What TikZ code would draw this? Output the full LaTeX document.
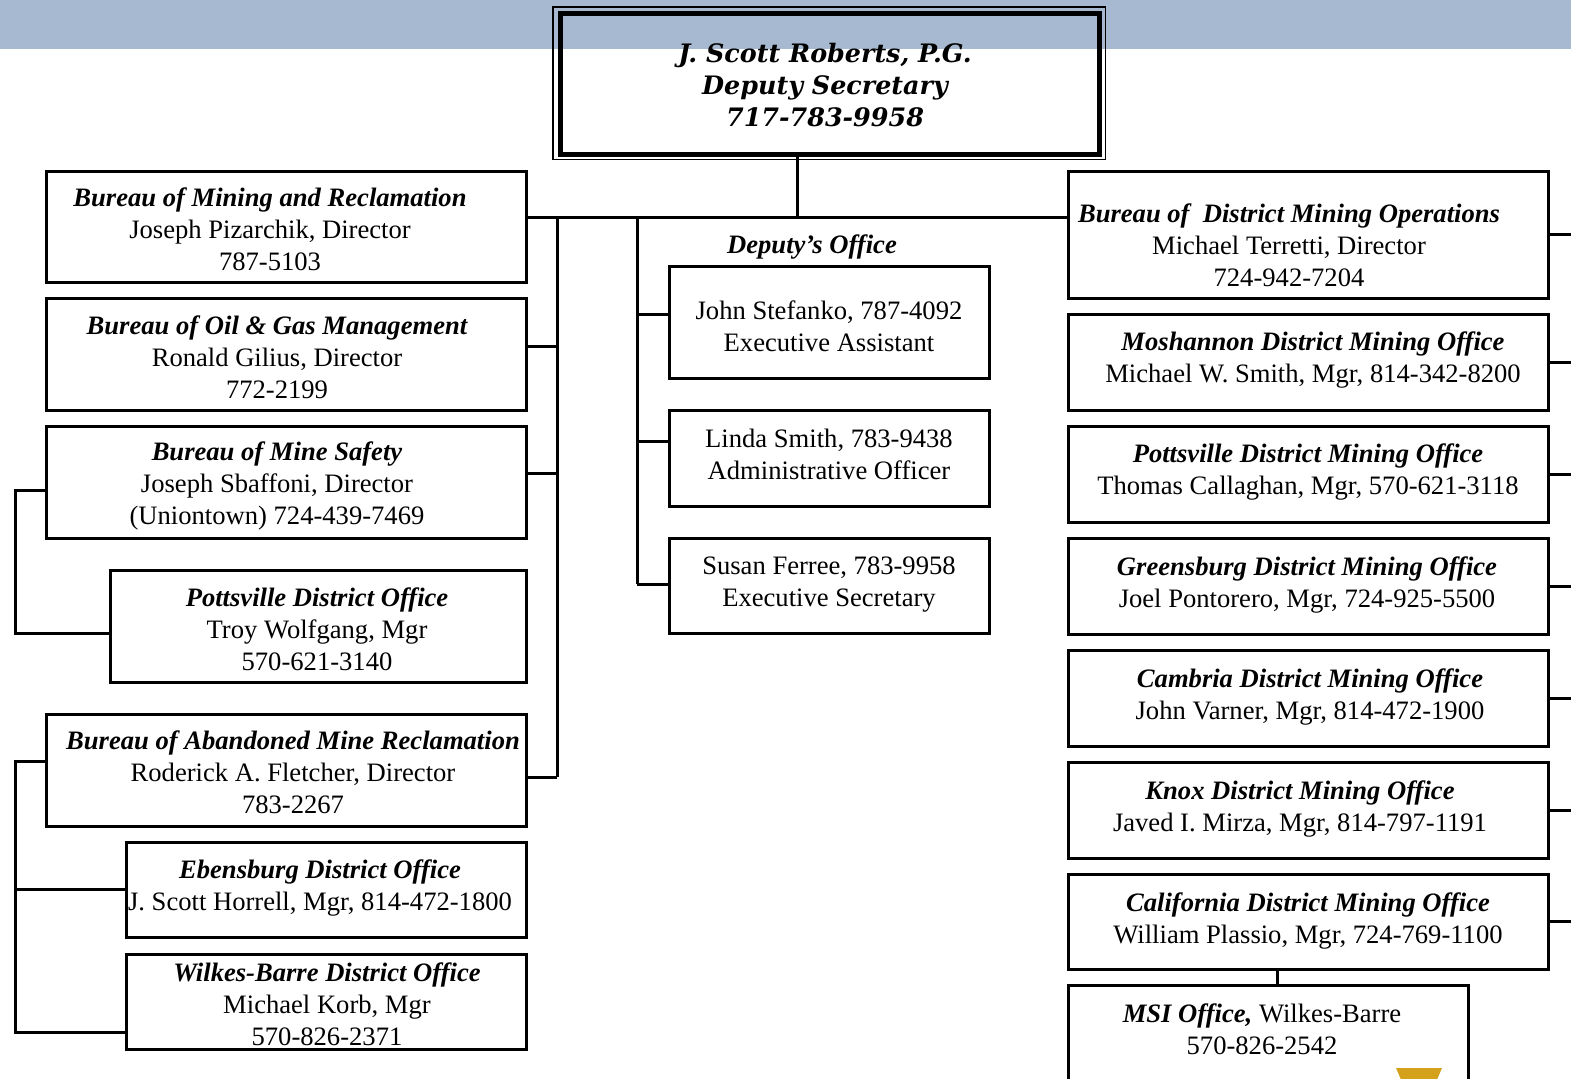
\documentclass[tikz,border=0pt]{standalone}
\usepackage{fontspec}
\setmainfont{Liberation Serif}
\newfontfamily\headfont{DejaVu Serif}
\usetikzlibrary{calc}
\definecolor{bandblue}{RGB}{167,185,208}
\definecolor{goldmark}{RGB}{212,162,26}
\newcommand\ttl[1]{{\bfseries\itshape #1}}
\begin{document}
\begin{tikzpicture}[x=0.5pt,y=-0.5pt,
  box/.style={draw,line width=1.5pt,inner sep=0pt},
  txt/.style={align=center,inner sep=0pt,font=\fontsize{13.3}{16}\selectfont},
  conn/.style={line width=1.5pt}]
\useasboundingbox (0,0) rectangle (1571,1078);
\clip (0,0) rectangle (1571,1078);
\fill[bandblue] (0,0) rectangle (1571,49);

% header
\node[draw,line width=2.5pt,minimum width=269.5pt,minimum height=70.5pt,inner sep=0pt] (top) at (829.5,83.5) {};
\draw[line width=0.7pt] ($(top.north west)+(-4.5,-3.5)$) rectangle ($(top.south east)+(4,3)$);
\node[align=center,inner sep=0pt,font=\headfont\bfseries\itshape\fontsize{12.7}{16}\selectfont] (ttop) at (825,85)
  {J. Scott Roberts, P.G.\\Deputy Secretary\\717-783-9958};

% left column
\node[box,minimum width=240pt,minimum height=55.5pt] (b1) at (286,226.5) {};
\node[txt] (tb1) at (270,229) {\ttl{Bureau of Mining and Reclamation}\\Joseph Pizarchik, Director\\787-5103};
\node[box,minimum width=240pt,minimum height=56pt] (b2) at (286,354) {};
\node[txt] (tb2) at (277,357) {\ttl{Bureau of Oil \& Gas Management}\\Ronald Gilius, Director\\772-2199};
\node[box,minimum width=240pt,minimum height=56pt] (b3) at (286,482) {};
\node[txt] (tb3) at (277,486) {\ttl{Bureau of Mine Safety}\\Joseph Sbaffoni, Director\\(Uniontown) 724-439-7469};
\node[box,minimum width=208pt,minimum height=56pt] (b4) at (318,626) {};
\node[txt] (tb4) at (317,629) {\ttl{Pottsville District Office}\\Troy Wolfgang, Mgr\\570-621-3140};
\node[box,minimum width=240pt,minimum height=56pt] (b5) at (286,770) {};
\node[txt] (tb5) at (293,772) {\ttl{Bureau of Abandoned Mine Reclamation}\\Roderick A. Fletcher, Director\\783-2267};
\node[box,minimum width=200pt,minimum height=47.5pt] (b6) at (326,889.5) {};
\node[txt] (tb6) at (320,888) {\ttl{Ebensburg District Office}\\J. Scott Horrell, Mgr, 814-472-1800};
\node[box,minimum width=200pt,minimum height=47.5pt] (b7) at (326,1001.5) {};
\node[txt] (tb7) at (327,1004) {\ttl{Wilkes-Barre District Office}\\Michael Korb, Mgr\\570-826-2371};

% deputy's office
\node[inner sep=0pt,font=\fontsize{13.3}{16}\selectfont\bfseries\itshape] (dlab) at (812,247) {Deputy’s Office};
\node[box,minimum width=160pt,minimum height=56pt] (d1) at (829,322) {};
\node[txt] (td1) at (829,326) {John Stefanko, 787-4092\\Executive Assistant};
\node[box,minimum width=160pt,minimum height=48pt] (d2) at (829,458) {};
\node[txt] (td2) at (829,454) {Linda Smith, 783-9438\\Administrative Officer};
\node[box,minimum width=160pt,minimum height=47.5pt] (d3) at (829,585.5) {};
\node[txt] (td3) at (829,585) {Susan Ferree, 783-9958\\Executive Secretary};

% right column
\node[box,minimum width=240pt,minimum height=63.5pt] (r1) at (1308,234.5) {};
\node[txt] (tr1) at (1289,245) {\ttl{Bureau of\ \ District Mining Operations}\\Michael Terretti, Director\\724-942-7204};
\node[box,minimum width=240pt,minimum height=48pt] (r2) at (1308,362) {};
\node[txt] (tr2) at (1313,360) {\ttl{Moshannon District Mining Office}\\Michael W. Smith, Mgr, 814-342-8200};
\node[box,minimum width=240pt,minimum height=48pt] (r3) at (1308,474) {};
\node[txt] (tr3) at (1308,472) {\ttl{Pottsville District Mining Office}\\Thomas Callaghan, Mgr, 570-621-3118};
\node[box,minimum width=240pt,minimum height=48pt] (r4) at (1308,586) {};
\node[txt] (tr4) at (1307,585) {\ttl{Greensburg District Mining Office}\\Joel Pontorero, Mgr, 724-925-5500};
\node[box,minimum width=240pt,minimum height=48pt] (r5) at (1308,698) {};
\node[txt] (tr5) at (1310,697) {\ttl{Cambria District Mining Office}\\John Varner, Mgr, 814-472-1900};
\node[box,minimum width=240pt,minimum height=48pt] (r6) at (1308,810) {};
\node[txt] (tr6) at (1300,809) {\ttl{Knox District Mining Office}\\Javed I. Mirza, Mgr, 814-797-1191};
\node[box,minimum width=240pt,minimum height=47.5pt] (r7) at (1308,921.5) {};
\node[txt] (tr7) at (1308,921) {\ttl{California District Mining Office}\\William Plassio, Mgr, 724-769-1100};
\node[box,minimum width=200pt,minimum height=57.5pt] (msi) at (1268,1042.5) {};
\node[txt] (tmsi) at (1262,1029) {\ttl{MSI Office,} Wilkes-Barre\\570-826-2542};

% connector junctions
\coordinate (hb) at (797,217);
\coordinate (lb) at (557,217);
\coordinate (db) at (637,217);
\coordinate (ll) at (15,0);
\coordinate (edge) at (1571,0);
\coordinate (mc) at (1277,0);

% main trunk
\draw[conn] (hb |- top.south) -- (hb);
\draw[conn] (b1.east |- hb) -- (r1.west |- hb);
% left bus
\draw[conn] (lb) -- (lb |- 0,777);
\draw[conn] (b2.east |- 0,346) -- (lb |- 0,346);
\draw[conn] (b3.east |- 0,473) -- (lb |- 0,473);
\draw[conn] (b5.east |- 0,777) -- (lb |- 0,777);
% deputy bus
\draw[conn] (db) -- (db |- 0,584);
\draw[conn] (db |- 0,314) -- (d1.west |- 0,314);
\draw[conn] (db |- 0,441) -- (d2.west |- 0,441);
\draw[conn] (db |- 0,584) -- (d3.west |- 0,584);
% mine safety bus
\draw[conn] (b3.west |- 0,490) -- (ll |- 0,490) -- (ll |- 0,633) -- (b4.west |- 0,633);
% abandoned mine bus
\draw[conn] (b5.west |- 0,761) -- (ll |- 0,761) -- (ll |- 0,1032) -- (b7.west |- 0,1032);
\draw[conn] (ll |- b6.west) -- (b6.west);
% right stubs
\foreach \r in {r1,r2,r3,r4,r5,r6,r7}
  \draw[conn] (\r.east) -- (\r.east -| edge);
% california to MSI
\draw[conn] (mc |- r7.south) -- (mc |- msi.north);

% gold mark
\fill[goldmark] (1396,1068) -- (1442,1068) -- (1436,1082) -- (1402,1082) -- cycle;
\end{tikzpicture}
\end{document}
